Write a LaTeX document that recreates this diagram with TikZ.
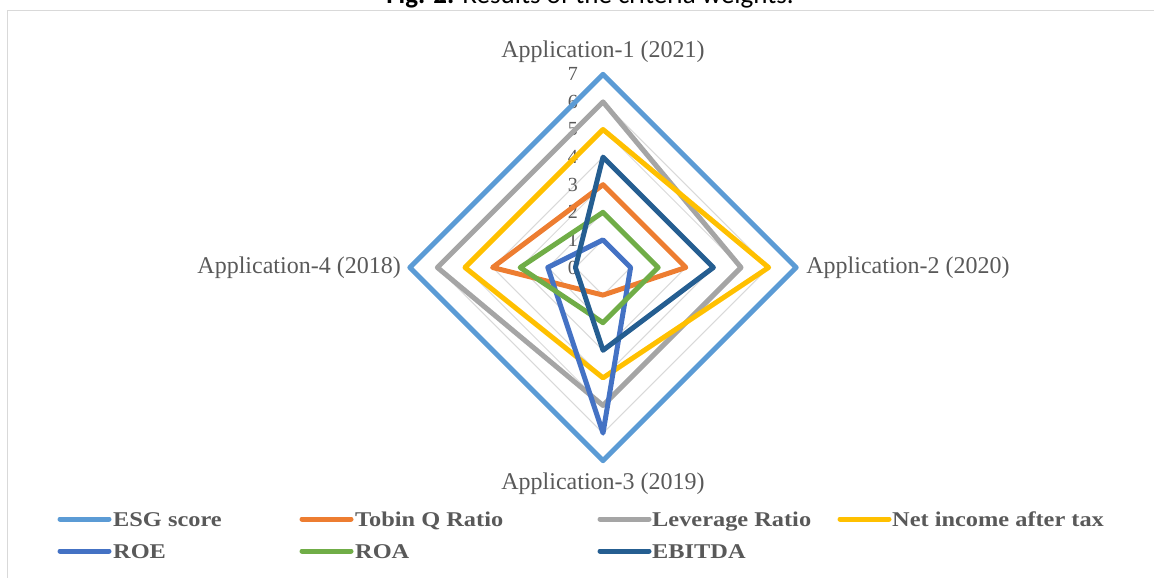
\documentclass[tikz,border=0pt]{standalone}
\usepackage{fontspec}
\usepackage{graphicx}
\setmainfont{Liberation Serif}
\newfontfamily\calib{Carlito}
\definecolor{esg}{HTML}{5B9BD5}
\definecolor{tobin}{HTML}{ED7D31}
\definecolor{lev}{HTML}{A5A5A5}
\definecolor{net}{HTML}{FFC000}
\definecolor{roe}{HTML}{4472C4}
\definecolor{roa}{HTML}{70AD47}
\definecolor{ebitda}{HTML}{255E91}
\definecolor{gridc}{HTML}{D9D9D9}
\definecolor{labc}{HTML}{595959}
\tikzset{
  series/.style={line width=5pt, line join=round, draw=#1},
  legline/.style={line width=5pt, line cap=round, draw=#1},
  legtext/.style={anchor=base west, inner sep=0pt, text=labc, font=\bfseries\fontsize{21}{21}\selectfont},
  axlab/.style={text=labc, inner sep=0pt, font=\fontsize{24}{24}\selectfont},
  ticklab/.style={anchor=east, inner sep=0pt, text=labc, font=\fontsize{20}{20}\selectfont}
}
\newcommand{\radarpoly}[5]{\draw[series=#1] (0,#2) -- (#3,0) -- (0,-#4) -- (-#5,0) -- cycle;}
\newcommand{\legstr}[1]{\scalebox{1.16}[1]{#1}}
\begin{document}
\begin{tikzpicture}[x=1pt,y=-1pt]
\useasboundingbox (0,0) rectangle (1154,578);
\clip (0,0) rectangle (1154,578);
\node[anchor=base, font=\calib\fontsize{27}{27}\selectfont, text=black] (title) at (590,3.5) {\textbf{Fig. 2.} Results of the criteria weights.};
\draw[gridc, line width=1.5pt] (7.5,578) -- (7.5,10.5) -- (1154,10.5);
\begin{scope}[shift={(603pt,-267.5pt)}, x=27.6pt, y=27.6pt]
  \foreach \v in {1,...,7} {
    \draw[gridc, line width=1pt] (0,\v) -- (\v,0) -- (0,-\v) -- (-\v,0) -- cycle;
  }
  \foreach \v in {0,...,7} {
    \node[ticklab] (t\v) at (-0.9,\v) {\v};
  }
  \radarpoly{esg}{7}{7}{7}{7}
  \radarpoly{tobin}{3}{3}{1}{4}
  \radarpoly{lev}{6}{5}{5}{6}
  \radarpoly{net}{5}{6}{4}{5}
  \radarpoly{roe}{1}{1}{6}{2}
  \radarpoly{roa}{2}{2}{2}{3}
  \radarpoly{ebitda}{4}{4}{3}{1}
  \node[axlab] (a1) at (0,7.8) {Application-1 (2021)};
  \node[axlab, anchor=west] (a2) at (7.36,0) {Application-2 (2020)};
  \node[axlab] (a3) at (0,-7.84) {Application-3 (2019)};
  \node[axlab, anchor=east] (a4) at (-7.32,0) {Application-4 (2018)};
\end{scope}
\draw[legline=esg] (60,519) -- (109,519);
\node[legtext] (l1) at (113,526.5) {\legstr{ESG score}};
\draw[legline=tobin] (302,519) -- (351,519);
\node[legtext] (l2) at (355,526.5) {\legstr{Tobin Q Ratio}};
\draw[legline=lev] (600,519) -- (649,519);
\node[legtext] (l3) at (652,526.5) {\legstr{Leverage Ratio}};
\draw[legline=net] (840,519) -- (889,519);
\node[legtext] (l4) at (892,526.5) {\legstr{Net income after tax}};
\draw[legline=roe] (60,551) -- (109,551);
\node[legtext] (l5) at (113,558.5) {\legstr{ROE}};
\draw[legline=roa] (302,551) -- (351,551);
\node[legtext] (l6) at (355,558.5) {\legstr{ROA}};
\draw[legline=ebitda] (600,551) -- (649,551);
\node[legtext] (l7) at (652,558.5) {\legstr{EBITDA}};
\end{tikzpicture}
\end{document}
